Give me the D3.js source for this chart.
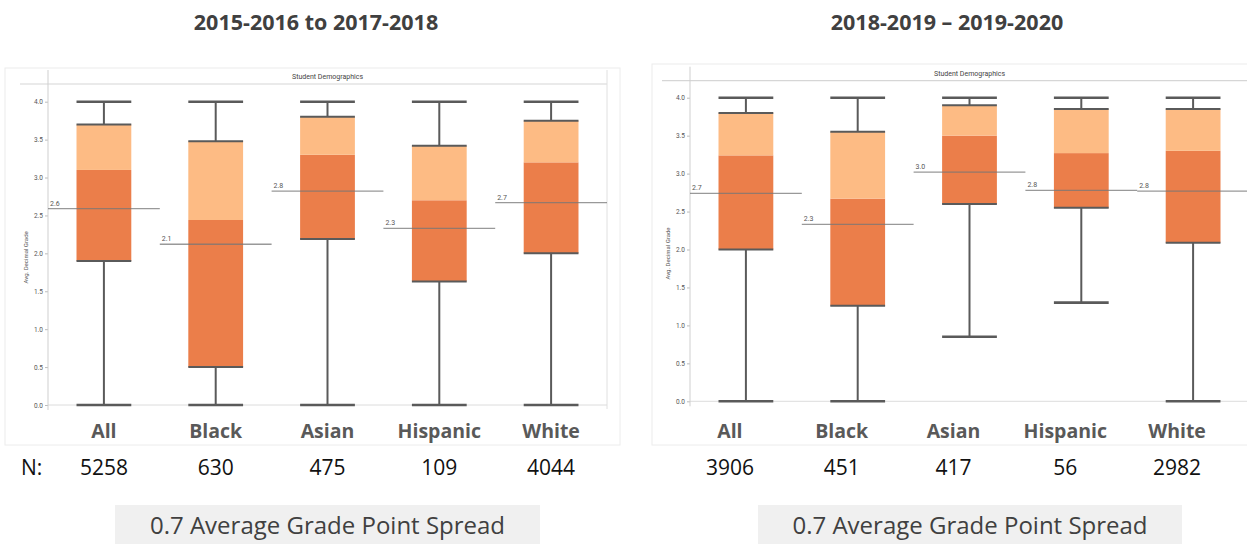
<!DOCTYPE html>
<html>
<head>
<meta charset="utf-8">
<script src="https://cdn.jsdelivr.net/npm/d3@7"></script>
<style>
  body { margin: 0; background: #fff; }
  svg { display: block; }
</style>
</head>
<body>
<div id="chart"></div>
<script>
// categories + tick values
var categories = ["All", "Black", "Asian", "Hispanic", "White"];
var yTicks = [0, 0.5, 1, 1.5, 2, 2.5, 3, 3.5, 4];

// 2015-2016 to 2017-2018
var min1 = [0, 0, 0, 0, 0];
var q1_1 = [1.90, 0.50, 2.19, 1.63, 2.00];
var med1 = [3.10, 2.44, 3.30, 2.70, 3.20];
var q3_1 = [3.70, 3.48, 3.80, 3.42, 3.75];
var max1 = [4, 4, 4, 4, 4];
var mean1 = [2.59, 2.12, 2.82, 2.33, 2.67];
var n1 = [5258, 630, 475, 109, 4044];

// 2018-2019 – 2019-2020
var min2 = [0, 0, 0.85, 1.30, 0];
var q1_2 = [2.00, 1.26, 2.60, 2.55, 2.09];
var med2 = [3.24, 2.67, 3.50, 3.27, 3.30];
var q3_2 = [3.80, 3.55, 3.90, 3.85, 3.85];
var max2 = [4, 4, 4, 4, 4];
var mean2 = [2.74, 2.33, 3.02, 2.78, 2.77];
var n2 = [3906, 451, 417, 56, 2982];

var width = 1247, height = 544;
var svg = d3.select("#chart").append("svg")
  .attr("width", width)
  .attr("height", height);

var darkOrange = "#eb7e4a",
    lightOrange = "#fdbb84",
    lineGray = "#5a5a5a";

function drawPanel(p) {
  var g = svg.append("g");

  // title
  g.append("text")
    .attr("x", p.titleX).attr("y", 30)
    .attr("text-anchor", "middle")
    .style("font-family", "'Open Sans', sans-serif")
    .style("font-weight", 700)
    .style("font-size", "21.5px")
    .attr("fill", "#404040")
    .text(p.title);

  // faint frame round the chart picture
  g.append("rect")
    .attr("x", p.frame[0]).attr("y", p.frame[1])
    .attr("width", p.frame[2]).attr("height", p.frame[3])
    .attr("fill", "none")
    .attr("stroke", "#ececec");

  var x = d3.scaleBand().domain(categories).range([p.left, p.right]).padding(0);
  var y = d3.scaleLinear().domain([0, 4]).range([p.y0, p.y4]);
  var bw = x.bandwidth() * 0.49;

  // header line + "Student Demographics"
  g.append("line")
    .attr("x1", p.headerX).attr("x2", p.right)
    .attr("y1", p.headerY).attr("y2", p.headerY)
    .attr("stroke", "#d6d6d6").attr("stroke-width", 1.2);
  g.append("text")
    .attr("x", (p.left + p.right) / 2).attr("y", p.headerY - 5)
    .attr("text-anchor", "middle")
    .style("font-family", "Roboto, sans-serif")
    .style("font-size", "7px")
    .attr("fill", "#444")
    .text("Student Demographics");

  // right border of plot
  g.append("line")
    .attr("x1", p.right).attr("x2", p.right)
    .attr("y1", p.headerY - 14).attr("y2", p.y0 + 4)
    .attr("stroke", "#e0e0e0");

  // baseline
  g.append("line")
    .attr("x1", p.left).attr("x2", p.right)
    .attr("y1", y(0)).attr("y2", y(0))
    .attr("stroke", "#dcdcdc");

  // y axis
  var yAxis = g.append("g")
    .attr("transform", "translate(" + p.left + ",0)")
    .call(d3.axisLeft(y).tickValues(yTicks).tickFormat(d3.format(".1f")).tickSize(3).tickPadding(2));
  yAxis.select(".domain").remove();
  yAxis.selectAll("line").attr("stroke", "#bbb");
  yAxis.selectAll("text")
    .style("font-family", "Roboto, sans-serif")
    .style("font-size", "6.5px")
    .attr("fill", "#555");
  g.append("line")
    .attr("x1", p.left).attr("x2", p.left)
    .attr("y1", p.headerY - 14).attr("y2", p.y0 + 5)
    .attr("stroke", "#cfcfcf");

  g.append("text")
    .attr("transform", "translate(" + (p.left - 20) + "," + ((p.y0 + p.y4) / 2 + 4) + ") rotate(-90)")
    .attr("text-anchor", "middle")
    .style("font-family", "Roboto, sans-serif")
    .style("font-size", "6px")
    .attr("fill", "#555")
    .text("Avg. Decimal Grade");

  var rows = categories.map(function(c, i) {
    return { cat: c, min: p.min[i], q1: p.q1[i], med: p.med[i], q3: p.q3[i], max: p.max[i], mean: p.mean[i], n: p.n[i] };
  });

  var box = g.append("g").selectAll("g").data(rows).enter().append("g")
    .attr("transform", function(d) { return "translate(" + (x(d.cat) + x.bandwidth() / 2) + ",0)"; });

  // whiskers
  box.append("line")
    .attr("x1", 0).attr("x2", 0)
    .attr("y1", function(d) { return y(d.max); })
    .attr("y2", function(d) { return y(d.q3); })
    .attr("stroke", lineGray).attr("stroke-width", 2);
  box.append("line")
    .attr("x1", 0).attr("x2", 0)
    .attr("y1", function(d) { return y(d.q1); })
    .attr("y2", function(d) { return y(d.min); })
    .attr("stroke", lineGray).attr("stroke-width", 2);

  // lower and upper halves of the box
  box.append("rect")
    .attr("x", -bw / 2).attr("width", bw)
    .attr("y", function(d) { return y(d.med); })
    .attr("height", function(d) { return y(d.q1) - y(d.med); })
    .attr("fill", darkOrange);
  box.append("rect")
    .attr("x", -bw / 2).attr("width", bw)
    .attr("y", function(d) { return y(d.q3); })
    .attr("height", function(d) { return y(d.med) - y(d.q3); })
    .attr("fill", lightOrange);

  // caps and box edges
  ["max", "min", "q1", "q3"].forEach(function(k) {
    box.append("line")
      .attr("x1", -bw / 2).attr("x2", bw / 2)
      .attr("y1", function(d) { return y(d[k]); })
      .attr("y2", function(d) { return y(d[k]); })
      .attr("stroke", lineGray)
      .attr("stroke-width", (k == "max" || k == "min") ? 2.6 : 2);
  });

  // mean lines across whole band
  var fmt = d3.format(".1f");
  var mean = g.append("g").selectAll("g").data(rows).enter().append("g");
  mean.append("line")
    .attr("x1", function(d) { return x(d.cat); })
    .attr("x2", function(d) { return x(d.cat) + x.bandwidth(); })
    .attr("y1", function(d) { return y(d.mean); })
    .attr("y2", function(d) { return y(d.mean); })
    .attr("stroke", "#777").attr("stroke-opacity", 0.75).attr("stroke-width", 1.3);
  mean.append("text")
    .attr("x", function(d) { return x(d.cat) + 2; })
    .attr("y", function(d) { return y(d.mean) - 3; })
    .style("font-family", "Roboto, sans-serif")
    .style("font-size", "7px")
    .attr("fill", "#555")
    .text(function(d) { return fmt(d.mean); });

  // category labels (slide text under the chart)
  g.append("g").selectAll("text").data(rows).enter().append("text")
    .attr("x", function(d) { return x(d.cat) + x.bandwidth() / 2 + p.labelShift; })
    .attr("y", 438)
    .attr("text-anchor", "middle")
    .style("font-family", "'Open Sans', sans-serif")
    .style("font-weight", 700)
    .style("font-size", "19.5px")
    .attr("fill", "#595959")
    .text(function(d) { return d.cat; });

  // N counts
  g.append("g").selectAll("text").data(rows).enter().append("text")
    .attr("x", function(d) { return x(d.cat) + x.bandwidth() / 2 + p.labelShift; })
    .attr("y", 475)
    .attr("text-anchor", "middle")
    .style("font-family", "'Open Sans', sans-serif")
    .style("font-size", "21px")
    .attr("fill", "#111")
    .text(function(d) { return d.n; });
  if (p.nLabel) {
    g.append("text")
      .attr("x", 21).attr("y", 475)
      .style("font-family", "'Open Sans', sans-serif")
      .style("font-size", "21px")
      .attr("fill", "#111")
      .text("N:");
  }

  // spread note
  g.append("rect")
    .attr("x", p.note[0]).attr("y", 505)
    .attr("width", p.note[1] - p.note[0]).attr("height", 39)
    .attr("fill", "#f0f0f0");
  g.append("text")
    .attr("x", (p.note[0] + p.note[1]) / 2).attr("y", 534)
    .attr("text-anchor", "middle")
    .style("font-family", "'Open Sans', sans-serif")
    .style("font-size", "24px")
    .attr("fill", "#404040")
    .text("0.7 Average Grade Point Spread");
}

drawPanel({
  title: "2015-2016 to 2017-2018", titleX: 316,
  frame: [5, 68, 615, 377],
  left: 48, right: 607, y0: 405, y4: 101.7,
  headerX: 20, headerY: 84,
  min: min1, q1: q1_1, med: med1, q3: q3_1, max: max1, mean: mean1, n: n1,
  labelShift: 0, nLabel: true,
  note: [115, 540]
});

drawPanel({
  title: "2018-2019 \u2013 2019-2020", titleX: 947,
  frame: [652, 64, 600, 381],
  left: 690, right: 1249, y0: 401.3, y4: 97.7,
  headerX: 662, headerY: 80.7,
  min: min2, q1: q1_2, med: med2, q3: q3_2, max: max2, mean: mean2, n: n2,
  labelShift: -16, nLabel: false,
  note: [758, 1182]
});
</script>
</body>
</html>
